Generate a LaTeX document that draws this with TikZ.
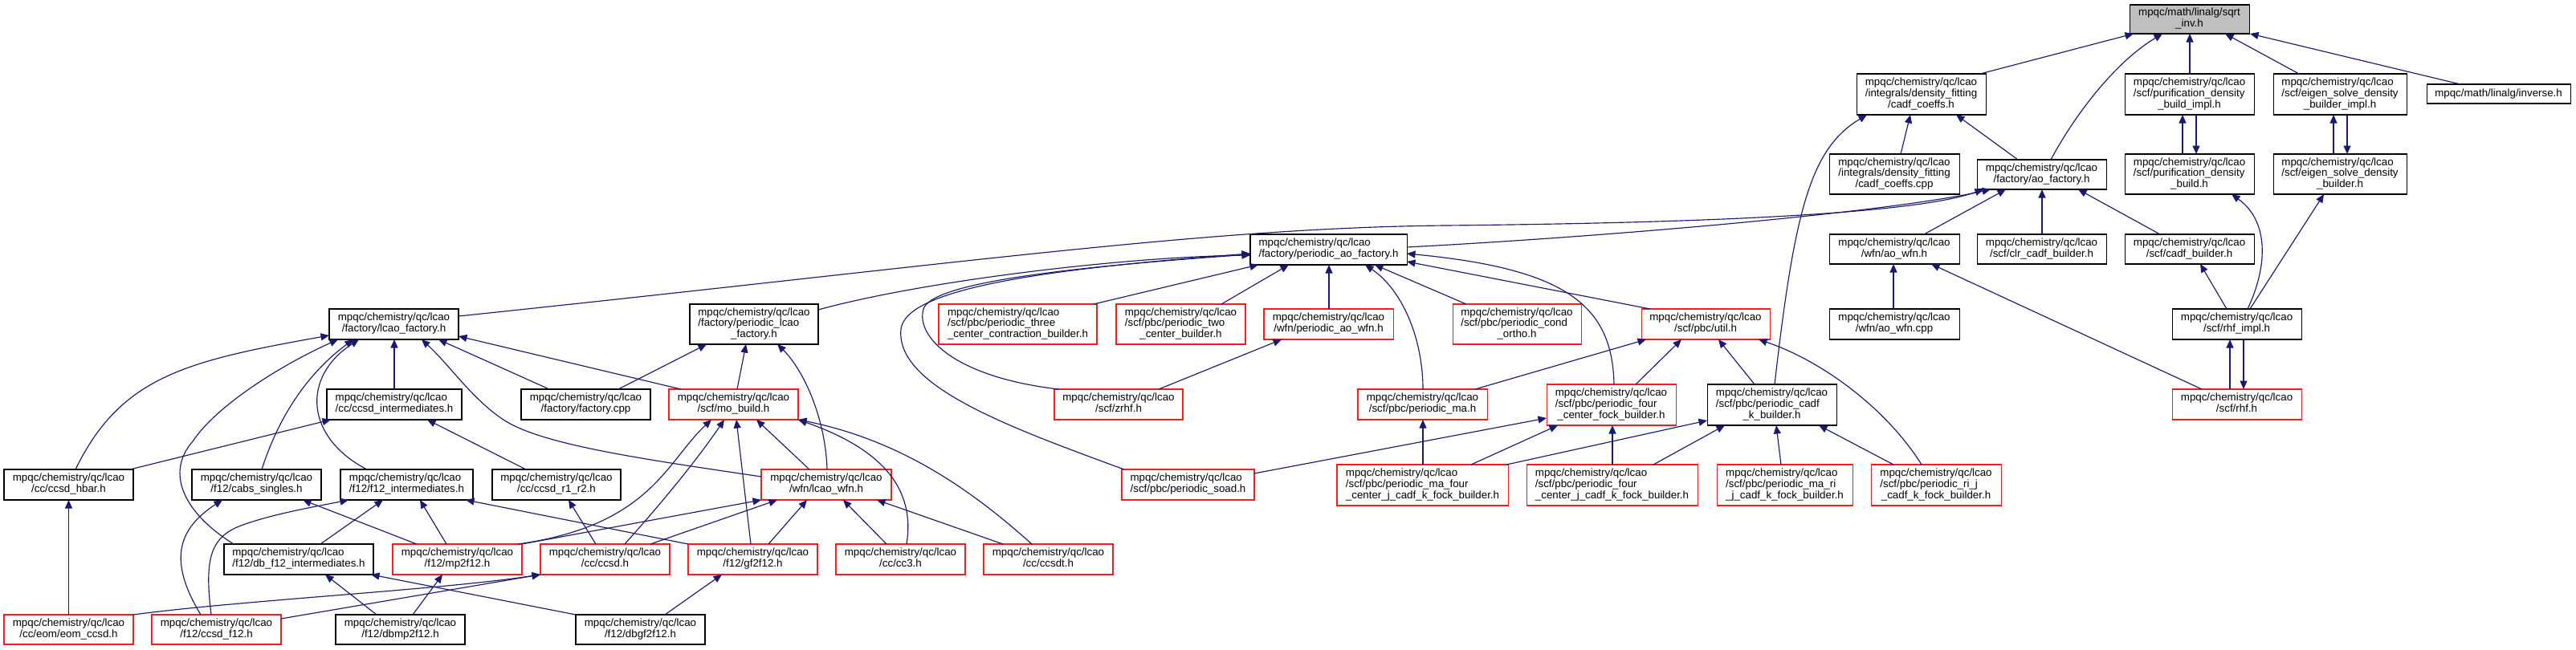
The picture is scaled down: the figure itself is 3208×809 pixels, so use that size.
\documentclass[tikz,border=0pt]{standalone}
\usepackage{fontspec}
\setmainfont{Liberation Sans}
\usetikzlibrary{arrows.meta}
\definecolor{edgec}{HTML}{191970}
\definecolor{nred}{HTML}{FF1A1A}
\definecolor{ngray}{HTML}{BFBFBF}
\newcommand{\lbl}[2]{\begin{tabular}{@{}l@{}}#1\multicolumn{1}{@{}c@{}}{#2}\end{tabular}}
\newcommand{\mybox}[7]{\node[#2, minimum width={(#5-#3)*1pt}, minimum height={(#6-#4)*1pt}] (#1) at ({(#3+#5)/2},{(#4+#6)/2}) {#7};}
\tikzset{
  nb/.style={draw=black, fill=white, line width=1.05pt, inner sep=0pt, outer sep=0pt, font=\fontsize{13.33pt}{13.4pt}\selectfont},
  nr/.style={nb, draw=nred},
  ng/.style={nb, fill=ngray},
  e/.style={draw=edgec, line width=1.15pt, -{Triangle[length=10.5pt,width=9pt]}}
}
\begin{document}
\begin{tikzpicture}[x=1pt,y=-1pt]
\fill[white] (0,0) rectangle (3208,809);
\useasboundingbox (0,0) rectangle (3208,809);
% ---- nodes ----
\mybox{sqrtinv}{ng}{2652}{6}{2801}{42}{\lbl{mpqc/math/linalg/sqrt\\}{\_inv.h}}
\mybox{dfcoeffs}{nb}{2312}{92}{2473}{143}{\lbl{mpqc/chemistry/qc/lcao\\/integrals/density\_fitting\\}{/cadf\_coeffs.h}}
\mybox{purimpl}{nb}{2646}{92}{2807}{143}{\lbl{mpqc/chemistry/qc/lcao\\/scf/purification\_density\\}{\_build\_impl.h}}
\mybox{eigimpl}{nb}{2831}{92}{2997}{143}{\lbl{mpqc/chemistry/qc/lcao\\/scf/eigen\_solve\_density\\}{\_builder\_impl.h}}
\mybox{inverse}{nb}{3022}{105}{3201}{129}{mpqc/math/linalg/inverse.h}
\mybox{dfcpp}{nb}{2278}{192}{2440}{242}{\lbl{mpqc/chemistry/qc/lcao\\/integrals/density\_fitting\\}{/cadf\_coeffs.cpp}}
\mybox{aofactory}{nb}{2462}{199}{2623}{236}{\lbl{mpqc/chemistry/qc/lcao\\}{/factory/ao\_factory.h}}
\mybox{purbuild}{nb}{2646}{192}{2807}{242}{\lbl{mpqc/chemistry/qc/lcao\\/scf/purification\_density\\}{\_build.h}}
\mybox{eigbuild}{nb}{2831}{192}{2997}{242}{\lbl{mpqc/chemistry/qc/lcao\\/scf/eigen\_solve\_density\\}{\_builder.h}}
\mybox{aowfn}{nb}{2278}{292}{2440}{329}{\lbl{mpqc/chemistry/qc/lcao\\}{/wfn/ao\_wfn.h}}
\mybox{clr}{nb}{2462}{292}{2623}{329}{\lbl{mpqc/chemistry/qc/lcao\\}{/scf/clr\_cadf\_builder.h}}
\mybox{cadfb}{nb}{2646}{292}{2807}{329}{\lbl{mpqc/chemistry/qc/lcao\\}{/scf/cadf\_builder.h}}
\mybox{aowfncpp}{nb}{2278}{385}{2440}{423}{\lbl{mpqc/chemistry/qc/lcao\\}{/wfn/ao\_wfn.cpp}}
\mybox{rhfimpl}{nb}{2705}{385}{2866}{423}{\lbl{mpqc/chemistry/qc/lcao\\}{/scf/rhf\_impl.h}}
\mybox{rhf}{nr}{2705}{485}{2866}{523}{\lbl{mpqc/chemistry/qc/lcao\\}{/scf/rhf.h}}
\mybox{pao}{nb}{1557}{292}{1752}{330}{\lbl{mpqc/chemistry/qc/lcao\\}{/factory/periodic\_ao\_factory.h}}
\mybox{lcaofac}{nb}{410}{385}{571}{423}{\lbl{mpqc/chemistry/qc/lcao\\}{/factory/lcao\_factory.h}}
\mybox{plcao}{nb}{859}{379}{1019}{429}{\lbl{mpqc/chemistry/qc/lcao\\/factory/periodic\_lcao\\}{\_factory.h}}
\mybox{three}{nr}{1169}{379}{1366}{429}{\lbl{mpqc/chemistry/qc/lcao\\/scf/pbc/periodic\_three\\}{\_center\_contraction\_builder.h}}
\mybox{two}{nr}{1390}{379}{1551}{429}{\lbl{mpqc/chemistry/qc/lcao\\/scf/pbc/periodic\_two\\}{\_center\_builder.h}}
\mybox{paowfn}{nr}{1574}{385}{1735}{423}{\lbl{mpqc/chemistry/qc/lcao\\}{/wfn/periodic\_ao\_wfn.h}}
\mybox{condortho}{nr}{1809}{379}{1969}{429}{\lbl{mpqc/chemistry/qc/lcao\\/scf/pbc/periodic\_cond\\}{\_ortho.h}}
\mybox{util}{nr}{2044}{385}{2204}{423}{\lbl{mpqc/chemistry/qc/lcao\\}{/scf/pbc/util.h}}
\mybox{ccsdint}{nb}{407}{485}{575}{523}{\lbl{mpqc/chemistry/qc/lcao\\}{/cc/ccsd\_intermediates.h}}
\mybox{factorycpp}{nb}{649}{485}{810}{523}{\lbl{mpqc/chemistry/qc/lcao\\}{/factory/factory.cpp}}
\mybox{mobuild}{nr}{833}{485}{994}{523}{\lbl{mpqc/chemistry/qc/lcao\\}{/scf/mo\_build.h}}
\mybox{zrhf}{nr}{1313}{485}{1473}{523}{\lbl{mpqc/chemistry/qc/lcao\\}{/scf/zrhf.h}}
\mybox{pma}{nr}{1691}{485}{1852}{523}{\lbl{mpqc/chemistry/qc/lcao\\}{/scf/pbc/periodic\_ma.h}}
\mybox{pfour}{nr}{1926}{479}{2087}{530}{\lbl{mpqc/chemistry/qc/lcao\\/scf/pbc/periodic\_four\\}{\_center\_fock\_builder.h}}
\mybox{pcadfk}{nb}{2126}{479}{2287}{530}{\lbl{mpqc/chemistry/qc/lcao\\/scf/pbc/periodic\_cadf\\}{\_k\_builder.h}}
\mybox{ccsdhbar}{nb}{5}{585}{166}{623}{\lbl{mpqc/chemistry/qc/lcao\\}{/cc/ccsd\_hbar.h}}
\mybox{cabs}{nb}{239}{585}{400}{623}{\lbl{mpqc/chemistry/qc/lcao\\}{/f12/cabs\_singles.h}}
\mybox{f12int}{nb}{424}{585}{589}{623}{\lbl{mpqc/chemistry/qc/lcao\\}{/f12/f12\_intermediates.h}}
\mybox{r1r2}{nb}{613}{585}{773}{623}{\lbl{mpqc/chemistry/qc/lcao\\}{/cc/ccsd\_r1\_r2.h}}
\mybox{lcaowfn}{nr}{948}{585}{1110}{623}{\lbl{mpqc/chemistry/qc/lcao\\}{/wfn/lcao\_wfn.h}}
\mybox{psoad}{nr}{1397}{585}{1562}{623}{\lbl{mpqc/chemistry/qc/lcao\\}{/scf/pbc/periodic\_soad.h}}
\mybox{pmafour}{nr}{1665}{579}{1878}{630}{\lbl{mpqc/chemistry/qc/lcao\\/scf/pbc/periodic\_ma\_four\\}{\_center\_j\_cadf\_k\_fock\_builder.h}}
\mybox{pfourj}{nr}{1901}{579}{2114}{630}{\lbl{mpqc/chemistry/qc/lcao\\/scf/pbc/periodic\_four\\}{\_center\_j\_cadf\_k\_fock\_builder.h}}
\mybox{pmari}{nr}{2138}{579}{2307}{630}{\lbl{mpqc/chemistry/qc/lcao\\/scf/pbc/periodic\_ma\_ri\\}{\_j\_cadf\_k\_fock\_builder.h}}
\mybox{prij}{nr}{2330}{579}{2492}{630}{\lbl{mpqc/chemistry/qc/lcao\\/scf/pbc/periodic\_ri\_j\\}{\_cadf\_k\_fock\_builder.h}}
\mybox{dbf12}{nb}{279}{678}{465}{716}{\lbl{mpqc/chemistry/qc/lcao\\}{/f12/db\_f12\_intermediates.h}}
\mybox{mp2f12}{nr}{489}{678}{650}{716}{\lbl{mpqc/chemistry/qc/lcao\\}{/f12/mp2f12.h}}
\mybox{ccsd}{nr}{673}{678}{834}{716}{\lbl{mpqc/chemistry/qc/lcao\\}{/cc/ccsd.h}}
\mybox{gf2f12}{nr}{857}{678}{1018}{716}{\lbl{mpqc/chemistry/qc/lcao\\}{/f12/gf2f12.h}}
\mybox{cc3}{nr}{1041}{678}{1202}{716}{\lbl{mpqc/chemistry/qc/lcao\\}{/cc/cc3.h}}
\mybox{ccsdt}{nr}{1225}{678}{1386}{716}{\lbl{mpqc/chemistry/qc/lcao\\}{/cc/ccsdt.h}}
\mybox{eomccsd}{nr}{5}{766}{166}{803}{\lbl{mpqc/chemistry/qc/lcao\\}{/cc/eom/eom\_ccsd.h}}
\mybox{ccsdf12}{nr}{189}{766}{350}{803}{\lbl{mpqc/chemistry/qc/lcao\\}{/f12/ccsd\_f12.h}}
\mybox{dbmp2}{nb}{418}{766}{579}{803}{\lbl{mpqc/chemistry/qc/lcao\\}{/f12/dbmp2f12.h}}
\mybox{dbgf2}{nb}{717}{766}{878}{803}{\lbl{mpqc/chemistry/qc/lcao\\}{/f12/dbgf2f12.h}}
% ---- edges (arrowhead at the included file) ----
\draw[e] (dfcoeffs.north -| 2466,0) -- (sqrtinv.south -| 2657,0);
\draw[e] (aofactory.north -| 2554,0) .. controls (2580,150) and (2630,80) .. (sqrtinv.south -| 2693,0);
\draw[e] (purimpl.north -| 2727,0) -- (sqrtinv.south -| 2727,0);
\draw[e] (eigimpl.north -| 2863,0) -- (sqrtinv.south -| 2771,0);
\draw[e] (inverse.north -| 3064,0) -- (sqrtinv.south -| 2802,0);
\draw[e] (dfcpp.north -| 2367,0) -- (dfcoeffs.south -| 2379,0);
\draw[e] (aofactory.north -| 2513,0) -- (dfcoeffs.south -| 2436,0);
\draw[e] (pcadfk.north -| 2210,0) .. controls (2235,260) and (2255,185) .. (dfcoeffs.south -| 2325,0);
\draw[e] (purbuild.north -| 2718,0) -- (purimpl.south -| 2718,0);
\draw[e] (purimpl.south -| 2735,0) -- (purbuild.north -| 2735,0);
\draw[e] (eigbuild.north -| 2906,0) -- (eigimpl.south -| 2906,0);
\draw[e] (eigimpl.south -| 2923,0) -- (eigbuild.north -| 2923,0);
\draw[e] (rhfimpl.north -| 2799,0) .. controls (2825,330) and (2825,275) .. (purbuild.south -| 2779,0);
\draw[e] (rhfimpl.north -| 2802,0) -- (eigbuild.south -| 2894,0);
\draw[e] (rhfimpl.north -| 2773,0) -- (cadfb.south -| 2740,0);
\draw[e] (rhf.north -| 2777,0) -- (rhfimpl.south -| 2777,0);
\draw[e] (rhfimpl.south -| 2794,0) -- (rhf.north -| 2794,0);
\draw[e] (rhf.north -| 2742,0) -- (aowfn.south -| 2405,0);
\draw[e] (aowfncpp.north -| 2358,0) -- (aowfn.south -| 2358,0);
\draw[e] (aowfn.north -| 2396,0) -- (aofactory.south -| 2498,0);
\draw[e] (clr.north -| 2543,0) -- (aofactory.south -| 2543,0);
\draw[e] (cadfb.north -| 2690,0) -- (aofactory.south -| 2588,0);
\draw[e] (pao.east |- 0,308) .. controls (2000,295) and (2350,265) .. (aofactory.south -| 2479,0);
\draw[e] (lcaofac.east |- 0,394) .. controls (1200,328) and (1500,284) .. (1800,281) .. controls (2100,278) and (2380,268) .. (aofactory.south -| 2470,0);
\draw[e] (plcao.east |- 0,386) .. controls (1150,350) and (1400,320) .. (pao.west |- 0,318);
\draw[e] (zrhf.north -| 1318,0) .. controls (1190,470) and (1140,420) .. (1150,385) .. controls (1160,355) and (1300,335) .. (pao.west |- 0,317);
\draw[e] (psoad.north -| 1400,0) .. controls (1250,530) and (1115,480) .. (1122,410) .. controls (1128,360) and (1300,335) .. (pao.west |- 0,316);
\draw[e] (three.north -| 1362,0) -- (pao.south -| 1567,0);
\draw[e] (two.north -| 1521,0) -- (pao.south -| 1605,0);
\draw[e] (paowfn.north -| 1655,0) -- (pao.south -| 1655,0);
\draw[e] (pma.north -| 1772,0) .. controls (1772,420) and (1745,360) .. (pao.south -| 1700,0);
\draw[e] (condortho.north -| 1826,0) -- (pao.south -| 1712,0);
\draw[e] (util.north -| 2055,0) -- (pao.east |- 0,326);
\draw[e] (pfour.north -| 2010,0) .. controls (2008,380) and (1950,335) .. (pao.east |- 0,316);
\draw[e] (pfour.north -| 2037,0) -- (util.south -| 2094,0);
\draw[e] (pma.north -| 1837,0) -- (util.south -| 2050,0);
\draw[e] (pcadfk.north -| 2185,0) -- (util.south -| 2140,0);
\draw[e] (prij.north -| 2393,0) .. controls (2350,510) and (2270,450) .. (util.south -| 2190,0);
\draw[e] (pmafour.north -| 1772,0) -- (pma.south -| 1772,0);
\draw[e] (pmafour.north -| 1832,0) -- (pfour.south -| 1940,0);
\draw[e] (pmafour.north -| 1876,0) -- (pcadfk.west |- 0,524);
\draw[e] (pfourj.north -| 2008,0) -- (pfour.south -| 2008,0);
\draw[e] (pfourj.north -| 2059,0) -- (pcadfk.south -| 2148,0);
\draw[e] (pmari.north -| 2218,0) -- (pcadfk.south -| 2212,0);
\draw[e] (prij.north -| 2358,0) -- (pcadfk.south -| 2265,0);
\draw[e] (psoad.east |- 0,590) -- (pfour.west |- 0,521);
\draw[e] (zrhf.north -| 1443,0) -- (paowfn.south -| 1596,0);
\draw[e] (factorycpp.north -| 770,0) -- (plcao.south -| 880,0);
\draw[e] (mobuild.north -| 918,0) -- (plcao.south -| 929,0);
\draw[e] (lcaowfn.north -| 1030,0) .. controls (1028,520) and (1000,460) .. (plcao.south -| 968,0);
\draw[e] (ccsdhbar.north -| 94,0) .. controls (150,470) and (230,450) .. (lcaofac.west |- 0,418);
\draw[e] (dbf12.north -| 291,0) .. controls (230,640) and (205,590) .. (240,550) .. controls (270,505) and (350,455) .. (lcaofac.south -| 421,0);
\draw[e] (cabs.north -| 326,0) .. controls (350,510) and (390,460) .. (lcaofac.south -| 440,0);
\draw[e] (f12int.north -| 457,0) .. controls (380,545) and (375,470) .. (lcaofac.south -| 447,0);
\draw[e] (ccsdint.north) -- (lcaofac.south -| 491,0);
\draw[e] (factorycpp.north -| 684,0) -- (lcaofac.south -| 546,0);
\draw[e] (mobuild.north -| 848,0) -- (lcaofac.east |- 0,419);
\draw[e] (lcaowfn.west |- 0,594) .. controls (800,572) and (680,555) .. (630,525) .. controls (590,500) and (560,455) .. (lcaofac.south -| 525,0);
\draw[e] (mp2f12.north -| 645,0) .. controls (810,655) and (830,575) .. (mobuild.south -| 886,0);
\draw[e] (ccsd.north -| 778,0) .. controls (830,620) and (870,570) .. (mobuild.south -| 902,0);
\draw[e] (gf2f12.north -| 935,0) -- (mobuild.south -| 917,0);
\draw[e] (lcaowfn.north -| 1008,0) -- (mobuild.south -| 942,0);
\draw[e] (cc3.north -| 1129,0) .. controls (1140,610) and (1100,560) .. (mobuild.south east);
\draw[e] (ccsdt.north -| 1285,0) .. controls (1220,620) and (1130,550) .. (mobuild.south east);
\draw[e] (mp2f12.north east) -- (lcaowfn.south west);
\draw[e] (ccsd.north -| 810,0) -- (lcaowfn.south -| 968,0);
\draw[e] (gf2f12.north -| 957,0) -- (lcaowfn.south -| 1005,0);
\draw[e] (cc3.north -| 1104,0) -- (lcaowfn.south -| 1050,0);
\draw[e] (ccsdt.north -| 1249,0) -- (lcaowfn.south -| 1092,0);
\draw[e] (eomccsd.north) -- (ccsdhbar.south);
\draw[e] (ccsdhbar.north -| 162,0) -- (ccsdint.south -| 412,0);
\draw[e] (r1r2.north -| 655,0) -- (ccsdint.south -| 532,0);
\draw[e] (ccsdf12.north -| 250,0) .. controls (210,700) and (220,660) .. (cabs.south -| 277,0);
\draw[e] (mp2f12.north -| 519,0) -- (cabs.south -| 377,0);
\draw[e] (ccsdf12.north -| 263,0) .. controls (255,700) and (260,670) .. (300,655) .. controls (340,640) and (400,630) .. (f12int.south -| 434,0);
\draw[e] (dbf12.north -| 399,0) -- (f12int.south -| 477,0);
\draw[e] (mp2f12.north -| 556,0) -- (f12int.south -| 523,0);
\draw[e] (gf2f12.north west) -- (f12int.south -| 580,0);
\draw[e] (ccsd.north -| 742,0) -- (r1r2.south -| 708,0);
\draw[e] (dbmp2.north -| 469,0) -- (dbf12.south -| 405,0);
\draw[e] (dbgf2.north west) -- (dbf12.south -| 462,0);
\draw[e] (dbmp2.north -| 514,0) -- (mp2f12.south -| 551,0);
\draw[e] (dbgf2.north -| 828,0) -- (gf2f12.south -| 899,0);
\draw[e] (eomccsd.north east) .. controls (300,748) and (550,735) .. (ccsd.south west);
\draw[e] (ccsdf12.east |- 0,771) -- (ccsd.south west);
\end{tikzpicture}
\end{document}
